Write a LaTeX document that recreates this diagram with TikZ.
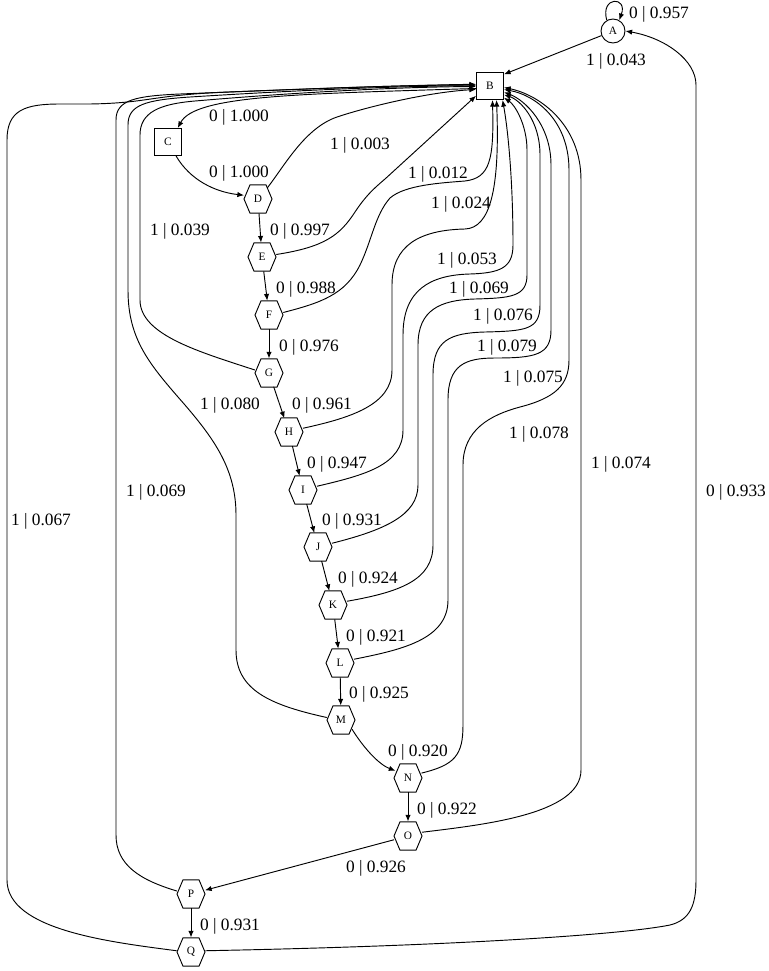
\documentclass[tikz,border=0pt]{standalone}
\usepackage{fontspec}
\setmainfont{Liberation Serif}
\usetikzlibrary{arrows.meta}
\newcommand{\hexnode}[3]{%
  \node[hexn] (#1) at (#2) {#3};
  \draw[hexline] ([shift={(-14,0)}]#1.center) -- ([shift={(-8,-14.2)}]#1.center) -- ([shift={(8,-14.2)}]#1.center) -- ([shift={(14,0)}]#1.center) -- ([shift={(8,14.2)}]#1.center) -- ([shift={(-8,14.2)}]#1.center) -- cycle;}
\begin{document}
\begin{tikzpicture}[x=0.75pt,y=-0.75pt,line width=0.7pt,
  arr/.style={-{Latex[length=5pt,width=4pt]}},
  hexn/.style={circle,inner sep=0pt,minimum size=21pt,font=\fontsize{8.5}{10}\selectfont},
  hexline/.style={line width=0.7pt},
  sqn/.style={rectangle,draw,inner sep=0pt,minimum size=20.25pt,font=\fontsize{8.5}{10}\selectfont},
  crn/.style={circle,draw,inner sep=0pt,minimum size=18pt,font=\fontsize{8.5}{10}\selectfont},
  lbl/.style={anchor=base,inner sep=0pt,font=\fontsize{13}{15}\selectfont}]
\useasboundingbox (0,0) rectangle (768,971);
% nodes
\node[crn] (A) at (613,31) {A};
\node[sqn] (B) at (490,86) {B};
\node[sqn] (C) at (168,142) {C};
\hexnode{D}{258,199}{D}
\hexnode{E}{262,257}{E}
\hexnode{F}{269,315}{F}
\hexnode{G}{269,373}{G}
\hexnode{H}{289,432}{H}
\hexnode{I}{303,490}{I}
\hexnode{J}{318,547}{J}
\hexnode{K}{333,605}{K}
\hexnode{L}{340,663}{L}
\hexnode{M}{341,720}{M}
\hexnode{N}{408,778}{N}
\hexnode{O}{408,836}{O}
\hexnode{P}{191,894}{P}
\hexnode{Q}{191,952}{Q}
% chain edges
\draw[arr] (A.120) .. controls (600,-4) and (628,-4) .. (A.60);
\draw[arr] (A) -- (B.40);
\draw[arr] (B.190) .. controls (300,94) and (195,95) .. (C.55);
\draw[arr] (C.-60) .. controls (190,180) and (215,192) .. (D.165);
\draw[arr] (D) -- (E);
\draw[arr] (E) -- (F);
\draw[arr] (F) -- (G);
\draw[arr] (G) -- (H);
\draw[arr] (H) -- (I);
\draw[arr] (I) -- (J);
\draw[arr] (J) -- (K);
\draw[arr] (K) -- (L);
\draw[arr] (L) -- (M);
\draw[arr] (M.-40) .. controls (365,750) and (380,765) .. (N.150);
\draw[arr] (N) -- (O);
\draw[arr] (O) -- (P);
\draw[arr] (P) -- (Q);
% edges back to B
\draw[arr] (D.50) .. controls (285,165) and (305,128) .. (337,117) .. controls (370,106) and (430,92) .. (B.194);
\draw[arr] (E.10) .. controls (325,247) and (340,235) .. (355,212) .. controls (365,197) and (372,190) .. (385,179) -- (B.215);
\draw[arr] (F.10) .. controls (320,303) and (345,295) .. (360,265) .. controls (372,240) and (375,215) .. (390,198) .. controls (405,185) and (440,183) .. (465,181) .. controls (490,178) and (494,160) .. (B.-80);
\draw[arr] (H.15) .. controls (350,418) and (392,405) .. (392,370) -- (392,285) .. controls (392,245) and (420,230) .. (465,229) .. controls (490,228) and (500,190) .. (B.-65);
\draw[arr] (I.15) .. controls (365,475) and (403,465) .. (403,430) -- (403,335) .. controls (403,290) and (430,275) .. (470,274) .. controls (500,273) and (513,268) .. (513,245) .. controls (513,180) and (508,130) .. (B.-48);
\draw[arr] (J.15) .. controls (385,530) and (418,515) .. (418,485) -- (418,345) .. controls (418,310) and (440,300) .. (475,299) .. controls (510,298) and (527,297) .. (527,275) -- (527,150) .. controls (527,125) and (515,105) .. (B.-40);
\draw[arr] (K.15) .. controls (400,592) and (433,580) .. (433,545) -- (433,375) .. controls (433,340) and (450,333) .. (485,332) .. controls (525,331) and (540,330) .. (540,305) -- (540,155) .. controls (540,120) and (520,100) .. (B.-32);
\draw[arr] (L.15) .. controls (400,650) and (448,640) .. (448,600) -- (448,400) .. controls (448,365) and (465,358) .. (495,358) .. controls (535,358) and (551,355) .. (551,330) -- (551,165) .. controls (551,125) and (525,100) .. (B.-24);
\draw[arr] (N.20) .. controls (455,765) and (463,755) .. (463,725) -- (463,465) .. controls (463,430) and (490,415) .. (520,407) .. controls (555,398) and (569,385) .. (569,360) -- (569,170) .. controls (569,120) and (535,95) .. (B.-14);
\draw[arr] (O.15) .. controls (480,825) and (581,815) .. (581,770) -- (581,180) .. controls (581,125) and (540,95) .. (B.-6);
\draw[arr] (G.168) .. controls (200,352) and (140,335) .. (140,300) -- (140,135) .. controls (140,112) and (160,104) .. (195,101) .. controls (300,92) and (400,87) .. (B.182);
\draw[arr] (M.170) .. controls (270,705) and (236,690) .. (236,650) -- (236,515) .. controls (236,470) and (215,440) .. (185,405) .. controls (150,365) and (128,340) .. (128,290) -- (128,125) .. controls (128,105) and (145,100) .. (190,97) .. controls (300,90) and (400,86) .. (B.179);
\draw[arr] (P.168) .. controls (140,880) and (116,865) .. (116,835) -- (116,120) .. controls (116,100) and (135,96) .. (180,94) .. controls (300,89) and (400,85) .. (B.176);
\draw[arr] (Q.175) .. controls (110,942) and (7,930) .. (7,880) -- (7,140) .. controls (7,110) and (25,104) .. (60,104) -- (90,104) .. controls (150,103) and (150,95) .. (230,92) .. controls (330,88) and (420,85) .. (B.173);
\draw[arr] (Q.5) .. controls (450,946) and (620,935) .. (670,925) .. controls (690,920) and (696,905) .. (696,880) -- (696,85) .. controls (696,60) and (665,38) .. (A.0);
% labels
\node[lbl] (t01) at (659,18) {0 | 0.957};
\node[lbl] (t02) at (616,65) {1 | 0.043};
\node[lbl] (t03) at (239,121) {0 | 1.000};
\node[lbl] (t04) at (239,177) {0 | 1.000};
\node[lbl] (t05) at (360,149) {1 | 0.003};
\node[lbl] (t06) at (300,235) {0 | 0.997};
\node[lbl] (t07) at (438,178) {1 | 0.012};
\node[lbl] (t08) at (306,293) {0 | 0.988};
\node[lbl] (t09) at (461,208) {1 | 0.024};
\node[lbl] (t10) at (180,235) {1 | 0.039};
\node[lbl] (t11) at (309,351) {0 | 0.976};
\node[lbl] (t12) at (467,264) {1 | 0.053};
\node[lbl] (t13) at (479,293) {1 | 0.069};
\node[lbl] (t14) at (503,320) {1 | 0.076};
\node[lbl] (t15) at (507,351) {1 | 0.079};
\node[lbl] (t16) at (533,382) {1 | 0.075};
\node[lbl] (t17) at (230,409) {1 | 0.080};
\node[lbl] (t18) at (322,409) {0 | 0.961};
\node[lbl] (t19) at (539,438) {1 | 0.078};
\node[lbl] (t20) at (621,468) {1 | 0.074};
\node[lbl] (t21) at (337,468) {0 | 0.947};
\node[lbl] (t22) at (736,496) {0 | 0.933};
\node[lbl] (t23) at (156,496) {1 | 0.069};
\node[lbl] (t24) at (41,525) {1 | 0.067};
\node[lbl] (t25) at (352,525) {0 | 0.931};
\node[lbl] (t26) at (368,583) {0 | 0.924};
\node[lbl] (t27) at (376,641) {0 | 0.921};
\node[lbl] (t28) at (379,698) {0 | 0.925};
\node[lbl] (t29) at (418,756) {0 | 0.920};
\node[lbl] (t30) at (447,814) {0 | 0.922};
\node[lbl] (t31) at (376,872) {0 | 0.926};
\node[lbl] (t32) at (230,930) {0 | 0.931};
\end{tikzpicture}
\end{document}
